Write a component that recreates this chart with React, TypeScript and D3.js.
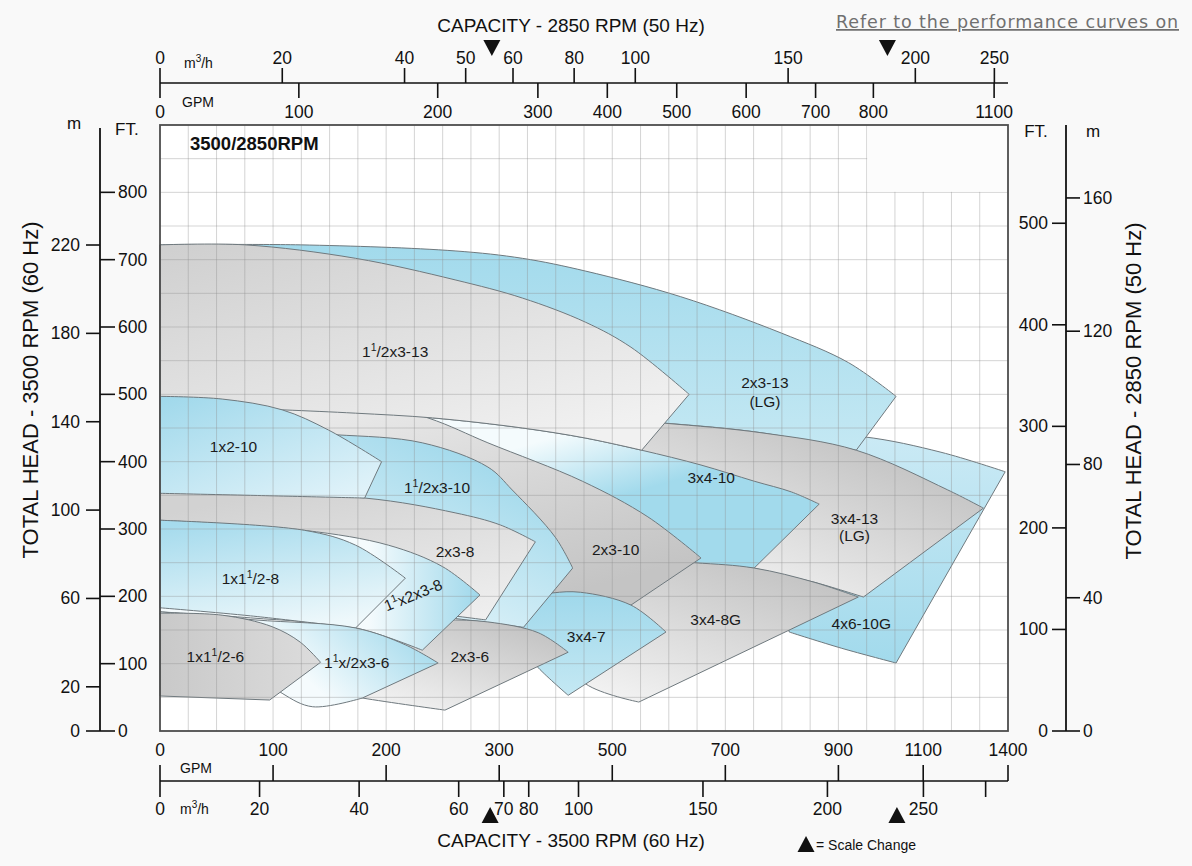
import React, { useEffect } from "react";
import * as d3 from "d3";

const W = 1192;
const H = 866;
const plot = { left: 160, right: 1008, top: 125, bottom: 731 };
const FONT = "'Liberation Sans', Arial, Helvetica, sans-serif";

const GPM_PER_M3H = 4.4029;
const FT_PER_M = 3.2808;
const speedRatio = 3500 / 2850;

// capacity axes (the chart changes scale at the marked triangles)
const gpmBreaks = [0, 300, 900, 1100, 1400];
const breakFractions = [0, 0.4, 0.8, 0.9, 1];
const gpm60Ticks = [0, 100, 200, 300, 500, 700, 900, 1100, 1400];
const m3h60Ticks = [0, 20, 40, 60, 70, 80, 100, 150, 200, 250, 300];
const m3h60Unlabeled = [300];
const gpm50Ticks = [0, 100, 200, 300, 400, 500, 600, 700, 800, 1100];
const m3h50Ticks = [0, 20, 40, 50, 60, 80, 100, 150, 200, 250];
const scaleChange60 = [292, 1038]; // GPM @ 3500 RPM
const scaleChange50 = [239, 827]; // GPM @ 2850 RPM

// head axes
const ft60Ticks = [0, 100, 200, 300, 400, 500, 600, 700, 800];
const m60Ticks = [0, 20, 60, 100, 140, 180, 220];
const ft50Ticks = [0, 100, 200, 300, 400, 500];
const m50Ticks = [0, 40, 80, 120, 160];

// pump coverage areas: [GPM, FT] at 3500 RPM, top = max impeller, bottom = min impeller
const top2x3_13 = [[0, 722], [124, 722], [261, 713], [341, 702], [453, 683], [621, 645], [799, 591], [924, 547], [1036, 497]];
const bot2x3_13 = [[0, 484], [124, 477], [302, 471], [595, 457], [763, 443], [942, 417]];
const top4x6_10 = [[746, 444], [959, 437], [1163, 414], [1390, 385]];
const bot4x6_10 = [[813, 147], [907, 123], [1036, 101]];
const top3x4_13 = [[479, 465], [595, 457], [763, 443], [942, 417], [1187, 358], [1313, 331]];
const bot3x4_13 = [[751, 242], [799, 232], [857, 221], [959, 199]];
const top3x4_10 = [[0, 484], [124, 478], [241, 465], [341, 450], [453, 435], [552, 417], [657, 395], [751, 371], [817, 355], [866, 337]];
const bot3x4_10 = [[0, 402], [124, 388], [257, 343], [479, 284], [644, 250], [751, 242]];
const top3x4_8 = [[399, 261], [644, 250], [751, 242], [857, 221], [947, 199]];
const bot3x4_8 = [[391, 135], [453, 70], [547, 43]];
const top2x3_10 = [[0, 547], [124, 515], [237, 465], [290, 428], [447, 371], [563, 318], [657, 257]];
const bot2x3_10 = [[0, 291], [124, 277], [257, 247], [408, 202], [533, 187]];
const top3x4_7 = [[337, 195], [394, 205], [444, 206], [533, 187], [595, 147]];
const bot3x4_7 = [[328, 135], [369, 94], [422, 53]];
const top15x3_13 = [[0, 722], [75, 722], [173, 702], [261, 670], [341, 643], [453, 607], [533, 570], [636, 500]];
const bot15x3_13 = [[0, 484], [108, 477], [173, 472], [241, 465], [341, 450], [453, 435], [552, 417]];
const top15x3_10 = [[0, 447], [80, 444], [155, 440], [232, 428], [290, 392], [323, 358], [399, 288], [430, 242]];
const bot15x3_10 = [[0, 202], [168, 187], [257, 168], [343, 154]];
const top2x3_8 = [[0, 355], [181, 346], [261, 324], [302, 306], [364, 281]];
const bot2x3_8 = [[0, 210], [124, 195], [230, 177], [288, 165]];
const top1x2_10 = [[0, 497], [55, 493], [108, 477], [149, 447], [196, 400]];
const bot1x2_10 = [[0, 353], [80, 350], [181, 346]];
const top2x3_6 = [[212, 162], [252, 165], [290, 162], [369, 146], [422, 117]];
const bot2x3_6 = [[142, 61], [179, 49], [252, 31]];
const top15x2x3_8 = [[0, 313], [128, 298], [202, 276], [250, 244], [283, 202]];
const bot15x2x3_8 = [[0, 177], [80, 168], [173, 153], [232, 120]];
const top1x15_8 = [[0, 313], [128, 298], [173, 276], [217, 227]];
const bot1x15_8 = [[0, 183], [80, 171], [173, 153]];
const top15x2x3_6 = [[0, 177], [84, 165], [173, 153], [217, 128], [246, 101]];
const bot15x2x3_6 = [[0, 173], [71, 105], [108, 56], [135, 36], [179, 49]];
const top1x15_6 = [[0, 175], [55, 172], [99, 155], [124, 132], [142, 102]];
const bot1x15_6 = [[0, 52], [97, 46]];

// back to front
const pumps = [
  { id: "4x6-10G", top: top4x6_10, bottom: bot4x6_10 },
  { id: "2x3-13", top: top2x3_13, bottom: bot2x3_13 },
  { id: "3x4-13", top: top3x4_13, bottom: bot3x4_13 },
  { id: "3x4-10", top: top3x4_10, bottom: bot3x4_10 },
  { id: "3x4-8G", top: top3x4_8, bottom: bot3x4_8 },
  { id: "2x3-10", top: top2x3_10, bottom: bot2x3_10 },
  { id: "3x4-7", top: top3x4_7, bottom: bot3x4_7 },
  { id: "1.5x3-13", top: top15x3_13, bottom: bot15x3_13 },
  { id: "1.5x3-10", top: top15x3_10, bottom: bot15x3_10 },
  { id: "2x3-8", top: top2x3_8, bottom: bot2x3_8 },
  { id: "1x2-10", top: top1x2_10, bottom: bot1x2_10 },
  { id: "2x3-6", top: top2x3_6, bottom: bot2x3_6 },
  { id: "1.5x2x3-8", top: top15x2x3_8, bottom: bot15x2x3_8 },
  { id: "1x1.5-8", top: top1x15_8, bottom: bot1x15_8 },
  { id: "1.5x2x3-6", top: top15x2x3_6, bottom: bot15x2x3_6 },
  { id: "1x1.5-6", top: top1x15_6, bottom: bot1x15_6 },
];

// gradient per area: from colour, to colour, x1, y1, x2, y2 (bounding box units)
const fills: Record<string, [string, string, number, number, number, number]> = {
  "4x6-10G": ["#cbeaf5", "#a2daec", 0, 0, 0, 1],
  "2x3-13": ["#a2daec", "#c4e8f3", 0, 0, 0, 1],
  "3x4-13": ["#f4f4f4", "#bcbcbc", 0.3, 1, 1, 0.2],
  "3x4-10": ["#f4fbfd", "#a2daec", 0.76, 0, 1, 0.2],
  "3x4-8G": ["#f3f3f3", "#c2c2c2", 0.2, 1, 0.85, 0.1],
  "2x3-10": ["#ececec", "#c4c4c4", 0.5, 0, 1, 0.8],
  "3x4-7": ["#9fd8eb", "#c4e8f3", 0, 0, 0, 1],
  "1.5x3-13": ["#cfcfcf", "#f1f1f1", 0, 0, 0.7, 1],
  "1.5x3-10": ["#f4fbfd", "#9fd8eb", 0.3, 1, 1, 0.3],
  "2x3-8": ["#d2d2d2", "#f0f0f0", 0.3, 0, 0.9, 1],
  "1x2-10": ["#9fd8eb", "#dff2f9", 0, 0, 0.8, 1],
  "2x3-6": ["#f3f3f3", "#c3c3c3", 0.3, 1, 1, 0.2],
  "1.5x2x3-8": ["#f5fbfd", "#9fd8eb", 0.65, 0, 1, 0],
  "1x1.5-8": ["#a6dbed", "#eef8fb", 0.2, 0, 0.55, 1],
  "1.5x2x3-6": ["#f5fbfd", "#9fd8eb", 0.45, 0.5, 1, 0.3],
  "1x1.5-6": ["#c9c9c9", "#dcdcdc", 0, 0, 1, 0],
};

// label text ("^" raises the next character), GPM, FT, angle
const pumpLabels: [string, number, number, number][] = [
  ["1^1/2x3-13", 208, 563, 0],
  ["2x3-13", 770, 517, 0],
  ["(LG)", 770, 490, 0],
  ["1x2-10", 65, 423, 0],
  ["1^1/2x3-10", 245, 362, 0],
  ["3x4-10", 675, 376, 0],
  ["3x4-13", 938, 316, 0],
  ["(LG)", 938, 290, 0],
  ["2x3-8", 261, 267, 0],
  ["2x3-10", 506, 269, 0],
  ["1x1^1/2-8", 80, 226, 0],
  ["1^1x2x3-8", 224, 202, -22],
  ["3x4-8G", 683, 166, 0],
  ["3x4-7", 454, 140, 0],
  ["4x6-10G", 954, 160, 0],
  ["1x1^1/2-6", 49, 110, 0],
  ["1^1x/2x3-6", 174, 101, 0],
  ["2x3-6", 274, 111, 0],
];

const x60 = d3
  .scaleLinear()
  .domain(gpmBreaks)
  .range(breakFractions.map((f) => plot.left + f * (plot.right - plot.left)));
const yFt = d3.scaleLinear().domain([0, 900]).range([plot.bottom, plot.top]);
const x50 = (gpm50: number) => x60(gpm50 * speedRatio);
const yFt50 = (ft50: number) => yFt(ft50 * speedRatio * speedRatio);

const curve = d3
  .line<number[]>()
  .x((d) => x60(d[0]))
  .y((d) => yFt(d[1]))
  .curve(d3.curveCatmullRom.alpha(0.5));

function areaPath(top: number[][], bottom: number[][]) {
  const upper = curve(top) || "";
  const lower = (curve([...bottom].reverse()) || "").replace("M", "L");
  return upper + lower + "Z";
}

function labelSpans(s: string) {
  const segs = s.split("^");
  const out: JSX.Element[] = [<tspan key="s0">{segs[0]}</tspan>];
  segs.slice(1).forEach((seg, i) => {
    out.push(
      <tspan key={`u${i}`} dy={-6} fontSize={10.5}>
        {seg[0]}
      </tspan>
    );
    out.push(
      <tspan key={`r${i}`} dy={6}>
        {seg.slice(1)}
      </tspan>
    );
  });
  return out;
}

export default function App(): JSX.Element {
  useEffect(() => {
    document.body.style.margin = "0";
    document.body.style.overflow = "hidden";
  }, []);

  const plotW = plot.right - plot.left;
  const cols = d3.range(1, 30).map((i) => plot.left + (i * plotW) / 30);
  const rows = d3.range(50, 900, 50).map((f) => yFt(f));
  const ink = "#111";
  const tickFont = 17.5;

  return (
    <svg
      width={W}
      height={H}
      style={{ position: "absolute", left: 0, top: 0, display: "block", background: "#f9f9f9" }}
      fontFamily={FONT}
    >
      <defs>
        {pumps.map((p) => {
          const [c0, c1, gx1, gy1, gx2, gy2] = fills[p.id];
          return (
            <linearGradient key={p.id} id={`g-${p.id.replace(/\./g, "_")}`} x1={gx1} y1={gy1} x2={gx2} y2={gy2}>
              <stop offset="0" stopColor={c0} />
              <stop offset="1" stopColor={c1} />
            </linearGradient>
          );
        })}
      </defs>

      <rect x={plot.left} y={plot.top} width={plotW} height={plot.bottom - plot.top} fill="#ffffff" />

      {/* coverage areas */}
      {pumps.map((p) => (
        <path
          key={p.id}
          d={areaPath(p.top, p.bottom)}
          fill={`url(#g-${p.id.replace(/\./g, "_")})`}
          stroke="#6f797e"
          strokeWidth={1}
          strokeLinejoin="round"
        />
      ))}

      {/* grid shows through the areas */}
      <g stroke="#8f8f8f" strokeOpacity={0.38} strokeWidth={1}>
        {cols.map((x, i) => (
          <line key={`c${i}`} x1={x} x2={x} y1={plot.top} y2={plot.bottom} />
        ))}
        {rows.map((y, i) => (
          <line key={`r${i}`} x1={plot.left} x2={plot.right} y1={y} y2={y} />
        ))}
      </g>
      <rect
        x={plot.left + (25 * plotW) / 30 + 0.5}
        y={plot.top}
        width={(5 * plotW) / 30 - 0.5}
        height={yFt(800) - plot.top - 0.5}
        fill="#fcfcfc"
      />

      {pumpLabels.map(([t, g, f, a], i) => {
        const x = x60(g);
        const y = yFt(f) + 5.5;
        return (
          <text
            key={`l${i}`}
            x={x}
            y={y}
            textAnchor="middle"
            fontSize={15.5}
            fill="#1b1b1b"
            transform={a ? `rotate(${a},${x},${y - 5})` : undefined}
          >
            {labelSpans(t)}
          </text>
        );
      })}

      <text x={190} y={149.5} fontSize={18.5} fontWeight="bold" fill="#111">
        3500/2850RPM
      </text>

      {/* frame */}
      <rect
        x={plot.left}
        y={plot.top}
        width={plotW}
        height={plot.bottom - plot.top}
        fill="none"
        stroke="#4d4d4d"
        strokeWidth={1.8}
      />

      {/* top capacity axis (2850 RPM) */}
      <text x={571} y={32} textAnchor="middle" fontSize={19} fill={ink}>
        CAPACITY - 2850 RPM (50 Hz)
      </text>
      <line x1={plot.left} x2={plot.right} y1={83} y2={83} stroke={ink} strokeWidth={1.6} />
      {m3h50Ticks.map((v) => {
        const x = x50(v * GPM_PER_M3H);
        return (
          <g key={`tm${v}`}>
            <line x1={x} x2={x} y1={83} y2={68} stroke={ink} strokeWidth={1.6} />
            <text x={x} y={64} textAnchor="middle" fontSize={tickFont} fill={ink}>
              {v}
            </text>
          </g>
        );
      })}
      {gpm50Ticks.map((v) => {
        const x = x50(v);
        return (
          <g key={`tg${v}`}>
            <line x1={x} x2={x} y1={83} y2={98} stroke={ink} strokeWidth={1.6} />
            <text x={x} y={118} textAnchor="middle" fontSize={tickFont} fill={ink}>
              {v}
            </text>
          </g>
        );
      })}
      <text x={184} y={68} fontSize={14} fill={ink}>
        m<tspan dy={-6} fontSize={10}>3</tspan>
        <tspan dy={6}>/h</tspan>
      </text>
      <text x={182} y={107} fontSize={14} fill={ink}>
        GPM
      </text>
      {scaleChange50.map((g) => {
        const x = x50(g);
        return <path key={`sc50${g}`} d={`M${x - 8.5},40L${x + 8.5},40L${x},56Z`} fill={ink} />;
      })}

      {/* bottom capacity axis (3500 RPM) */}
      <line x1={plot.left} x2={plot.right} y1={781} y2={781} stroke={ink} strokeWidth={1.6} />
      {gpm60Ticks.map((v) => {
        const x = x60(v);
        return (
          <g key={`bg${v}`}>
            <line x1={x} x2={x} y1={781} y2={765} stroke={ink} strokeWidth={1.6} />
            <text x={x} y={756} textAnchor="middle" fontSize={tickFont} fill={ink}>
              {v}
            </text>
          </g>
        );
      })}
      {m3h60Ticks.map((v) => {
        const x = x60(v * GPM_PER_M3H);
        return (
          <g key={`bm${v}`}>
            <line x1={x} x2={x} y1={781} y2={797} stroke={ink} strokeWidth={1.6} />
            {m3h60Unlabeled.includes(v) ? null : (
              <text x={x} y={815} textAnchor="middle" fontSize={tickFont} fill={ink}>
                {v}
              </text>
            )}
          </g>
        );
      })}
      <text x={180} y={773} fontSize={14} fill={ink}>
        GPM
      </text>
      <text x={180} y={814} fontSize={14} fill={ink}>
        m<tspan dy={-6} fontSize={10}>3</tspan>
        <tspan dy={6}>/h</tspan>
      </text>
      {scaleChange60.map((g) => {
        const x = x60(g);
        return <path key={`sc60${g}`} d={`M${x - 8.5},823L${x + 8.5},823L${x},807Z`} fill={ink} />;
      })}
      <text x={571} y={847} textAnchor="middle" fontSize={19} fill={ink}>
        CAPACITY - 3500 RPM (60 Hz)
      </text>
      <path d="M797.5,852L814.5,852L806,836Z" fill={ink} />
      <text x={816} y={850} fontSize={14} fill={ink}>
        = Scale Change
      </text>

      {/* left head axis (3500 RPM) */}
      <line x1={100} x2={100} y1={128} y2={plot.bottom} stroke={ink} strokeWidth={1.8} />
      {ft60Ticks.map((v) => {
        const y = yFt(v);
        return (
          <g key={`lf${v}`}>
            <line x1={100} x2={115} y1={y} y2={y} stroke={ink} strokeWidth={1.6} />
            <text x={118} y={y + 6} fontSize={tickFont} fill={ink}>
              {v}
            </text>
          </g>
        );
      })}
      {m60Ticks.map((v) => {
        const y = yFt(v * FT_PER_M);
        return (
          <g key={`lm${v}`}>
            <line x1={86} x2={100} y1={y} y2={y} stroke={ink} strokeWidth={1.6} />
            <text x={80} y={y + 6} textAnchor="end" fontSize={tickFont} fill={ink}>
              {v}
            </text>
          </g>
        );
      })}
      <text x={74} y={129} textAnchor="middle" fontSize={17} fill={ink}>
        m
      </text>
      <text x={115} y={135} fontSize={17} fill={ink}>
        FT.
      </text>
      <text transform="translate(38,390) rotate(-90)" textAnchor="middle" fontSize={22} fill={ink}>
        TOTAL HEAD - 3500 RPM (60 Hz)
      </text>

      {/* right head axis (2850 RPM) */}
      <line x1={1066} x2={1066} y1={125} y2={plot.bottom} stroke={ink} strokeWidth={1.8} />
      {ft50Ticks.map((v) => {
        const y = yFt50(v);
        return (
          <g key={`rf${v}`}>
            <line x1={1052} x2={1066} y1={y} y2={y} stroke={ink} strokeWidth={1.6} />
            <text x={1048} y={y + 6} textAnchor="end" fontSize={tickFont} fill={ink}>
              {v}
            </text>
          </g>
        );
      })}
      {m50Ticks.map((v) => {
        const y = yFt50(v * FT_PER_M);
        return (
          <g key={`rm${v}`}>
            <line x1={1066} x2={1080} y1={y} y2={y} stroke={ink} strokeWidth={1.6} />
            <text x={1083} y={y + 6} fontSize={tickFont} fill={ink}>
              {v}
            </text>
          </g>
        );
      })}
      <text x={1036} y={137} textAnchor="middle" fontSize={17} fill={ink}>
        FT.
      </text>
      <text x={1093} y={137} textAnchor="middle" fontSize={17} fill={ink}>
        m
      </text>
      <text transform="translate(1141,391) rotate(-90)" textAnchor="middle" fontSize={22} fill={ink}>
        TOTAL HEAD - 2850 RPM (50 Hz)
      </text>

      <text
        x={836}
        y={28}
        fontSize={17.5}
        fontFamily="'DejaVu Sans', sans-serif"
        fill="#707070"
        letterSpacing={0.9}
        textDecoration="underline"
      >
        Refer to the performance curves on
      </text>
    </svg>
  );
}
